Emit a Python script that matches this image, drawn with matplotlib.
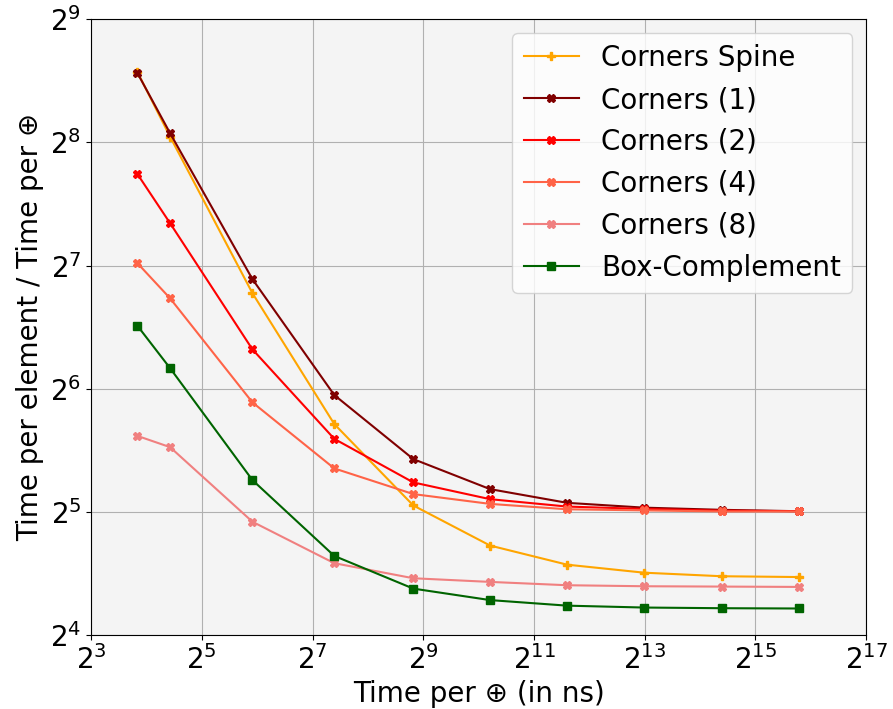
import matplotlib
matplotlib.use("Agg")
import matplotlib.pyplot as plt
from matplotlib.ticker import NullLocator

# Time per ⊕ (ns)
x_ns = [14.3, 21.5, 60.3, 168, 452, 1182, 3100, 8130, 21500, 56200]

# Time per element / Time per ⊕
spine = [380, 264.4, 109.6, 52.5, 33.2, 26.5, 23.8, 22.75, 22.3, 22.2]
corners_1 = [377.9, 269.6, 118.6, 61.8, 43.1, 36.4, 33.7, 32.8, 32.4, 32.15]
corners_2 = [214.1, 162.5, 79.9, 48.3, 37.8, 34.4, 33.0, 32.56, 32.25, 32.15]
corners_4 = [129.7, 106.5, 59.3, 40.9, 35.4, 33.5, 32.5, 32.3, 32.1, 32.1]
corners_8 = [49.1, 46.1, 30.3, 24.0, 22.05, 21.6, 21.2, 21.08, 21.04, 21.0]
box_complement = [91.2, 71.9, 38.3, 25.0, 20.8, 19.5, 18.9, 18.7, 18.63, 18.6]

series = [
    ("Corners Spine", spine, "orange", "P"),
    ("Corners (1)", corners_1, "maroon", "X"),
    ("Corners (2)", corners_2, "red", "X"),
    ("Corners (4)", corners_4, "tomato", "X"),
    ("Corners (8)", corners_8, "lightcoral", "X"),
    ("Box-Complement", box_complement, "darkgreen", "s"),
]

fig = plt.figure(figsize=(8.93, 7.09), dpi=100)
ax = fig.add_axes([0.102, 0.104, 0.868, 0.869])
ax.set_facecolor("#f4f4f4")

for label, ys, color, marker in series:
    ax.plot(x_ns, ys, color=color, marker=marker, lw=1.5, ms=6, label=label)

ax.set_xscale("log", base=2)
ax.set_yscale("log", base=2)
ax.set_xlim(2**3, 2**17)
ax.set_ylim(2**4, 2**9)
ax.set_xticks([2**k for k in range(3, 18, 2)])
ax.set_yticks([2**k for k in range(4, 10)])
ax.xaxis.set_minor_locator(NullLocator())
ax.yaxis.set_minor_locator(NullLocator())
ax.tick_params(labelsize=20)
ax.grid(True, color="#b0b0b0")
ax.set_axisbelow(True)

ax.set_xlabel("Time per ⊕ (in ns)", fontsize=20)
ax.set_ylabel("Time per element / Time per ⊕", fontsize=20)
ax.legend(loc="upper right", fontsize=20)

fig.savefig("out.png", dpi=100)
